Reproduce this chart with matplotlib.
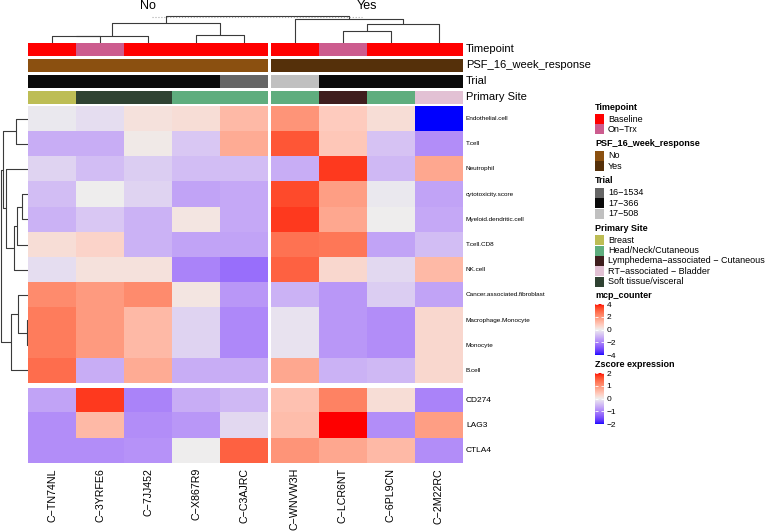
import numpy as np
import matplotlib
matplotlib.use('Agg')
import matplotlib.pyplot as plt
from matplotlib.colors import ListedColormap, Normalize, to_rgb
from matplotlib.cm import ScalarMappable
from matplotlib.patches import Rectangle

plt.rcParams['font.family'] = ['Liberation Sans', 'DejaVu Sans']

# ---- data ----
samples = ['C\u2212TN74NL', 'C\u22123YRFE6', 'C\u22127JJ452', 'C\u2212X867R9', 'C\u2212C3AJRC',
           'C\u2212WNVW3H', 'C\u2212LCR6NT', 'C\u22126PL9CN', 'C\u22122M22RC']
response = ['No', 'No', 'No', 'No', 'No', 'Yes', 'Yes', 'Yes', 'Yes']
timepoint = ['Baseline', 'On-Trx', 'Baseline', 'Baseline', 'Baseline',
             'Baseline', 'On-Trx', 'Baseline', 'Baseline']
trial = ['17-366', '17-366', '17-366', '17-366', '16-1534',
         '17-508', '17-366', '17-366', '17-366']
primary_site = ['Breast', 'Soft tissue/visceral', 'Soft tissue/visceral',
                'Head/Neck/Cutaneous', 'Head/Neck/Cutaneous',
                'Head/Neck/Cutaneous', 'Lymphedema-associated - Cutaneous',
                'Head/Neck/Cutaneous', 'RT-associated - Bladder']

mcp_rows = ['Endothelial.cell', 'T.cell', 'Neutrophil', 'cytotoxicity.score',
            'Myeloid.dendritic.cell', 'T.cell.CD8', 'NK.cell',
            'Cancer.associated.fibroblast', 'Macrophage.Monocyte', 'Monocyte', 'B.cell']
mcp_values = np.array([
    [-0.1, -0.3, 0.3, 0.4, 1.2, 2.0, 0.8, 0.4, -4.2],
    [-1.2, -1.2, 0.1, -0.7, 1.5, 3.2, 0.9, -0.8, -1.8],
    [-0.5, -0.9, -0.6, -0.9, -0.9, -1.2, 3.6, -1.0, 1.6],
    [-0.9, 0.0, -0.5, -1.4, -1.3, 3.4, 1.8, -0.1, -1.4],
    [-1.1, -0.7, -1.1, 0.2, -1.3, 3.6, 1.6, 0.0, -1.3],
    [0.4, 0.6, -1.1, -1.4, -1.4, 2.7, 2.6, -1.4, -0.9],
    [-0.3, 0.3, 0.3, -2.0, -2.4, 3.0, 0.5, -0.4, 1.2],
    [2.2, 1.9, 2.2, 0.2, -1.6, -1.1, -1.6, -0.6, -1.4],
    [2.5, 1.9, 1.2, -0.5, -1.9, -0.2, -1.6, -1.8, 0.5],
    [2.5, 1.9, 1.2, -0.5, -1.9, -0.2, -1.6, -1.8, 0.5],
    [2.8, -1.2, 1.5, -1.2, -1.2, 1.6, -1.1, -1.0, 0.5],
])
zscore_rows = ['CD274', 'LAG3', 'CTLA4']
zscore_values = np.array([
    [-0.7, 1.8, -1.0, -0.6, -0.5, 0.5, 1.2, 0.2, -1.0],
    [-0.9, 0.6, -0.9, -0.8, -0.2, 0.55, 2.0, -0.9, 0.9],
    [-0.9, -0.9, -0.85, 0.0, 1.5, 1.0, 0.8, 0.6, -0.9],
])

# merges: (cluster a, cluster b, height); new clusters numbered after leaves
col_linkage = [(0, 1, 7), (9, 2, 7.5), (3, 4, 8), (10, 11, 20),
               (6, 7, 12), (13, 8, 19), (5, 14, 24), (12, 15, 27)]
row_linkage = [(0, 1, 12), (3, 4, 6), (12, 5, 11), (13, 6, 14), (2, 14, 22),
               (11, 15, 24.7), (8, 9, 1), (7, 17, 10), (18, 10, 17), (16, 19, 27)]

annotations = [
    ('Timepoint', timepoint, {'Baseline': '#FF0000', 'On-Trx': '#CC5C8E'}),
    ('PSF_16_week_response', response, {'No': '#8B5010', 'Yes': '#55300A'}),
    ('Trial', trial, {'16-1534': '#666666', '17-366': '#0A0A0A', '17-508': '#C0C0C0'}),
    ('Primary Site', primary_site, {'Breast': '#BDBD55', 'Head/Neck/Cutaneous': '#5FAD7E',
                                    'Lymphedema-associated - Cutaneous': '#3F1E1E',
                                    'RT-associated - Bladder': '#E2C1D4',
                                    'Soft tissue/visceral': '#2F4232'}),
]

# ---- colour ramp blue -> #EEEEEE -> red, interpolated in LAB like colorRamp2 ----
M = np.array([[0.4124, 0.3576, 0.1805], [0.2126, 0.7152, 0.0722], [0.0193, 0.1192, 0.9505]])
WP = np.array([0.95047, 1.0, 1.08883])


def srgb_to_lab(c):
    c = np.asarray(c, float)
    lin = np.where(c <= 0.04045, c / 12.92, ((c + 0.055) / 1.055) ** 2.4)
    xyz = M @ lin / WP
    f = np.where(xyz > 0.008856, np.cbrt(xyz), 7.787 * xyz + 16 / 116)
    return np.array([116 * f[1] - 16, 500 * (f[0] - f[1]), 200 * (f[1] - f[2])])


def lab_to_srgb(lab):
    fy = (lab[0] + 16) / 116
    f = np.array([fy + lab[1] / 500, fy, fy - lab[2] / 200])
    xyz = np.where(f ** 3 > 0.008856, f ** 3, (f - 16 / 116) / 7.787) * WP
    lin = np.clip(np.linalg.inv(M) @ xyz, 0, 1)
    c = np.where(lin <= 0.0031308, 12.92 * lin, 1.055 * lin ** (1 / 2.4) - 0.055)
    return np.clip(c, 0, 1)


labs = [srgb_to_lab(to_rgb(c)) for c in ['blue', '#EEEEEE', 'red']]
ramp = []
for t in np.linspace(0, 1, 256):
    if t < 0.5:
        lab = labs[0] + (labs[1] - labs[0]) * t / 0.5
    else:
        lab = labs[1] + (labs[2] - labs[1]) * (t - 0.5) / 0.5
    ramp.append(lab_to_srgb(lab))
cmap = ListedColormap(ramp)
mcp_norm = Normalize(-4, 4)
z_norm = Normalize(-2, 2)

# ---- layout (pixels) ----
W, H = 768, 531
fig = plt.figure(figsize=(W / 100, H / 100), dpi=100)


def px_axes(x0, y0, x1, y1):
    ax = fig.add_axes([x0 / W, 1 - y1 / H, (x1 - x0) / W, (y1 - y0) / H])
    ax.set_axis_off()
    return ax


def fig_text(x, y, s, **kw):
    fig.text(x / W, 1 - y / H, s, **kw)


X0, CELL_W, GAP = 28, 48, 3
ANN_Y0, ANN_H, ANN_GAP = 43, 13, 3
MCP_Y0, MCP_Y1 = 106, 383
Z_Y0, Z_Y1 = 388, 463
LABEL_X = 466

groups = []
x = X0
for name in ['No', 'Yes']:
    idx = [i for i, r in enumerate(response) if r == name]
    groups.append((name, idx, x, x + CELL_W * len(idx)))
    x += CELL_W * len(idx) + GAP
X_END = groups[-1][3]

col_centers = {}
for name, idx, xs, xe in groups:
    for k, i in enumerate(idx):
        col_centers[i] = xs + CELL_W * (k + 0.5)

# annotation bars
for r, (title, vals, colors) in enumerate(annotations):
    y0 = ANN_Y0 + r * (ANN_H + ANN_GAP)
    for name, idx, xs, xe in groups:
        ax = px_axes(xs, y0, xe, y0 + ANN_H)
        rgb = np.array([[to_rgb(colors[vals[i]]) for i in idx]])
        ax.imshow(rgb, aspect='auto', interpolation='nearest')
    fig_text(LABEL_X, y0 + ANN_H / 2, title, fontsize=8, va='center', ha='left')

# heatmaps
for values, norm, y0, y1 in [(mcp_values, mcp_norm, MCP_Y0, MCP_Y1),
                             (zscore_values, z_norm, Z_Y0, Z_Y1)]:
    for name, idx, xs, xe in groups:
        ax = px_axes(xs, y0, xe, y1)
        ax.imshow(values[:, idx], cmap=cmap, norm=norm, aspect='auto', interpolation='nearest')

row_h = (MCP_Y1 - MCP_Y0) / len(mcp_rows)
for i, lab in enumerate(mcp_rows):
    fig_text(LABEL_X, MCP_Y0 + row_h * (i + 0.5), lab, fontsize=4.6, va='center', ha='left')
zrow_h = (Z_Y1 - Z_Y0) / len(zscore_rows)
for i, lab in enumerate(zscore_rows):
    fig_text(LABEL_X, Z_Y0 + zrow_h * (i + 0.5), lab, fontsize=6, va='center', ha='left')

for i, s in enumerate(samples):
    fig_text(col_centers[i], Z_Y1 + 5, s, fontsize=7.7, rotation=90, ha='center', va='top')

for name, idx, xs, xe in groups:
    fig_text((xs + xe) / 2, 6, name, fontsize=9, ha='center', va='center')


# dendrograms
def draw_dendro(ax, linkage, leaf_pos, vertical):
    pos = list(leaf_pos)
    hts = [0.0] * len(leaf_pos)
    for a, b, h in linkage:
        xs = [pos[a], pos[a], pos[b], pos[b]]
        ys = [hts[a], h, h, hts[b]]
        if vertical:
            ax.plot(xs, ys, color='#3a3a3a', lw=0.8, solid_capstyle='butt')
        else:
            ax.plot(ys, xs, color='#3a3a3a', lw=0.8, solid_capstyle='butt')
        pos.append((pos[a] + pos[b]) / 2)
        hts.append(h)
    return pos, hts


dax = px_axes(X0, 10, X_END, ANN_Y0)
pos, hts = draw_dendro(dax, col_linkage, [col_centers[i] for i in range(len(samples))], True)
a, b, h = col_linkage[-1]
dax.plot([pos[a] - 14, pos[b] + 13], [h - 0.6, h - 0.6], color='#aaaaaa', lw=0.8, ls=':')
dax.set_xlim(X0, X_END)
dax.set_ylim(0, ANN_Y0 - 10)

rax = px_axes(0, MCP_Y0, X0, MCP_Y1)
draw_dendro(rax, row_linkage, [i + 0.5 for i in range(len(mcp_rows))], False)
rax.set_xlim(X0, 0)
rax.set_ylim(len(mcp_rows), 0)

# legends
LX = 595
SW = 9
y = 107
for title, vals, colors in annotations:
    fig_text(LX, y, title, fontsize=6.5, fontweight='bold', va='center', ha='left')
    y += 12
    for lab, col in colors.items():
        fig.add_artist(Rectangle((LX / W, 1 - (y + 5) / H), SW / W, 10 / H,
                                 facecolor=col, edgecolor='none', transform=fig.transFigure))
        fig_text(LX + 13, y, lab.replace('-', '\u2212'), fontsize=6.5, va='center', ha='left')
        y += 10.4
    y += 4.1

for title, norm, ticks in [('mcp_counter', mcp_norm, [-4, -2, 0, 2, 4]),
                           ('Zscore expression', z_norm, [-2, -1, 0, 1, 2])]:
    fig_text(LX, y - 1, title, fontsize=6.5, fontweight='bold', va='center', ha='left')
    cax = fig.add_axes([LX / W, 1 - (y + 59) / H, SW / W, 51 / H])
    cb = fig.colorbar(ScalarMappable(norm=norm, cmap=cmap), cax=cax, ticks=ticks)
    cb.outline.set_visible(False)
    cax.tick_params(direction='in', length=2.5, width=0.6, color='white',
                    labelsize=6, pad=2, left=True, right=True)
    y += 69

fig.savefig('out.png', dpi=100)
